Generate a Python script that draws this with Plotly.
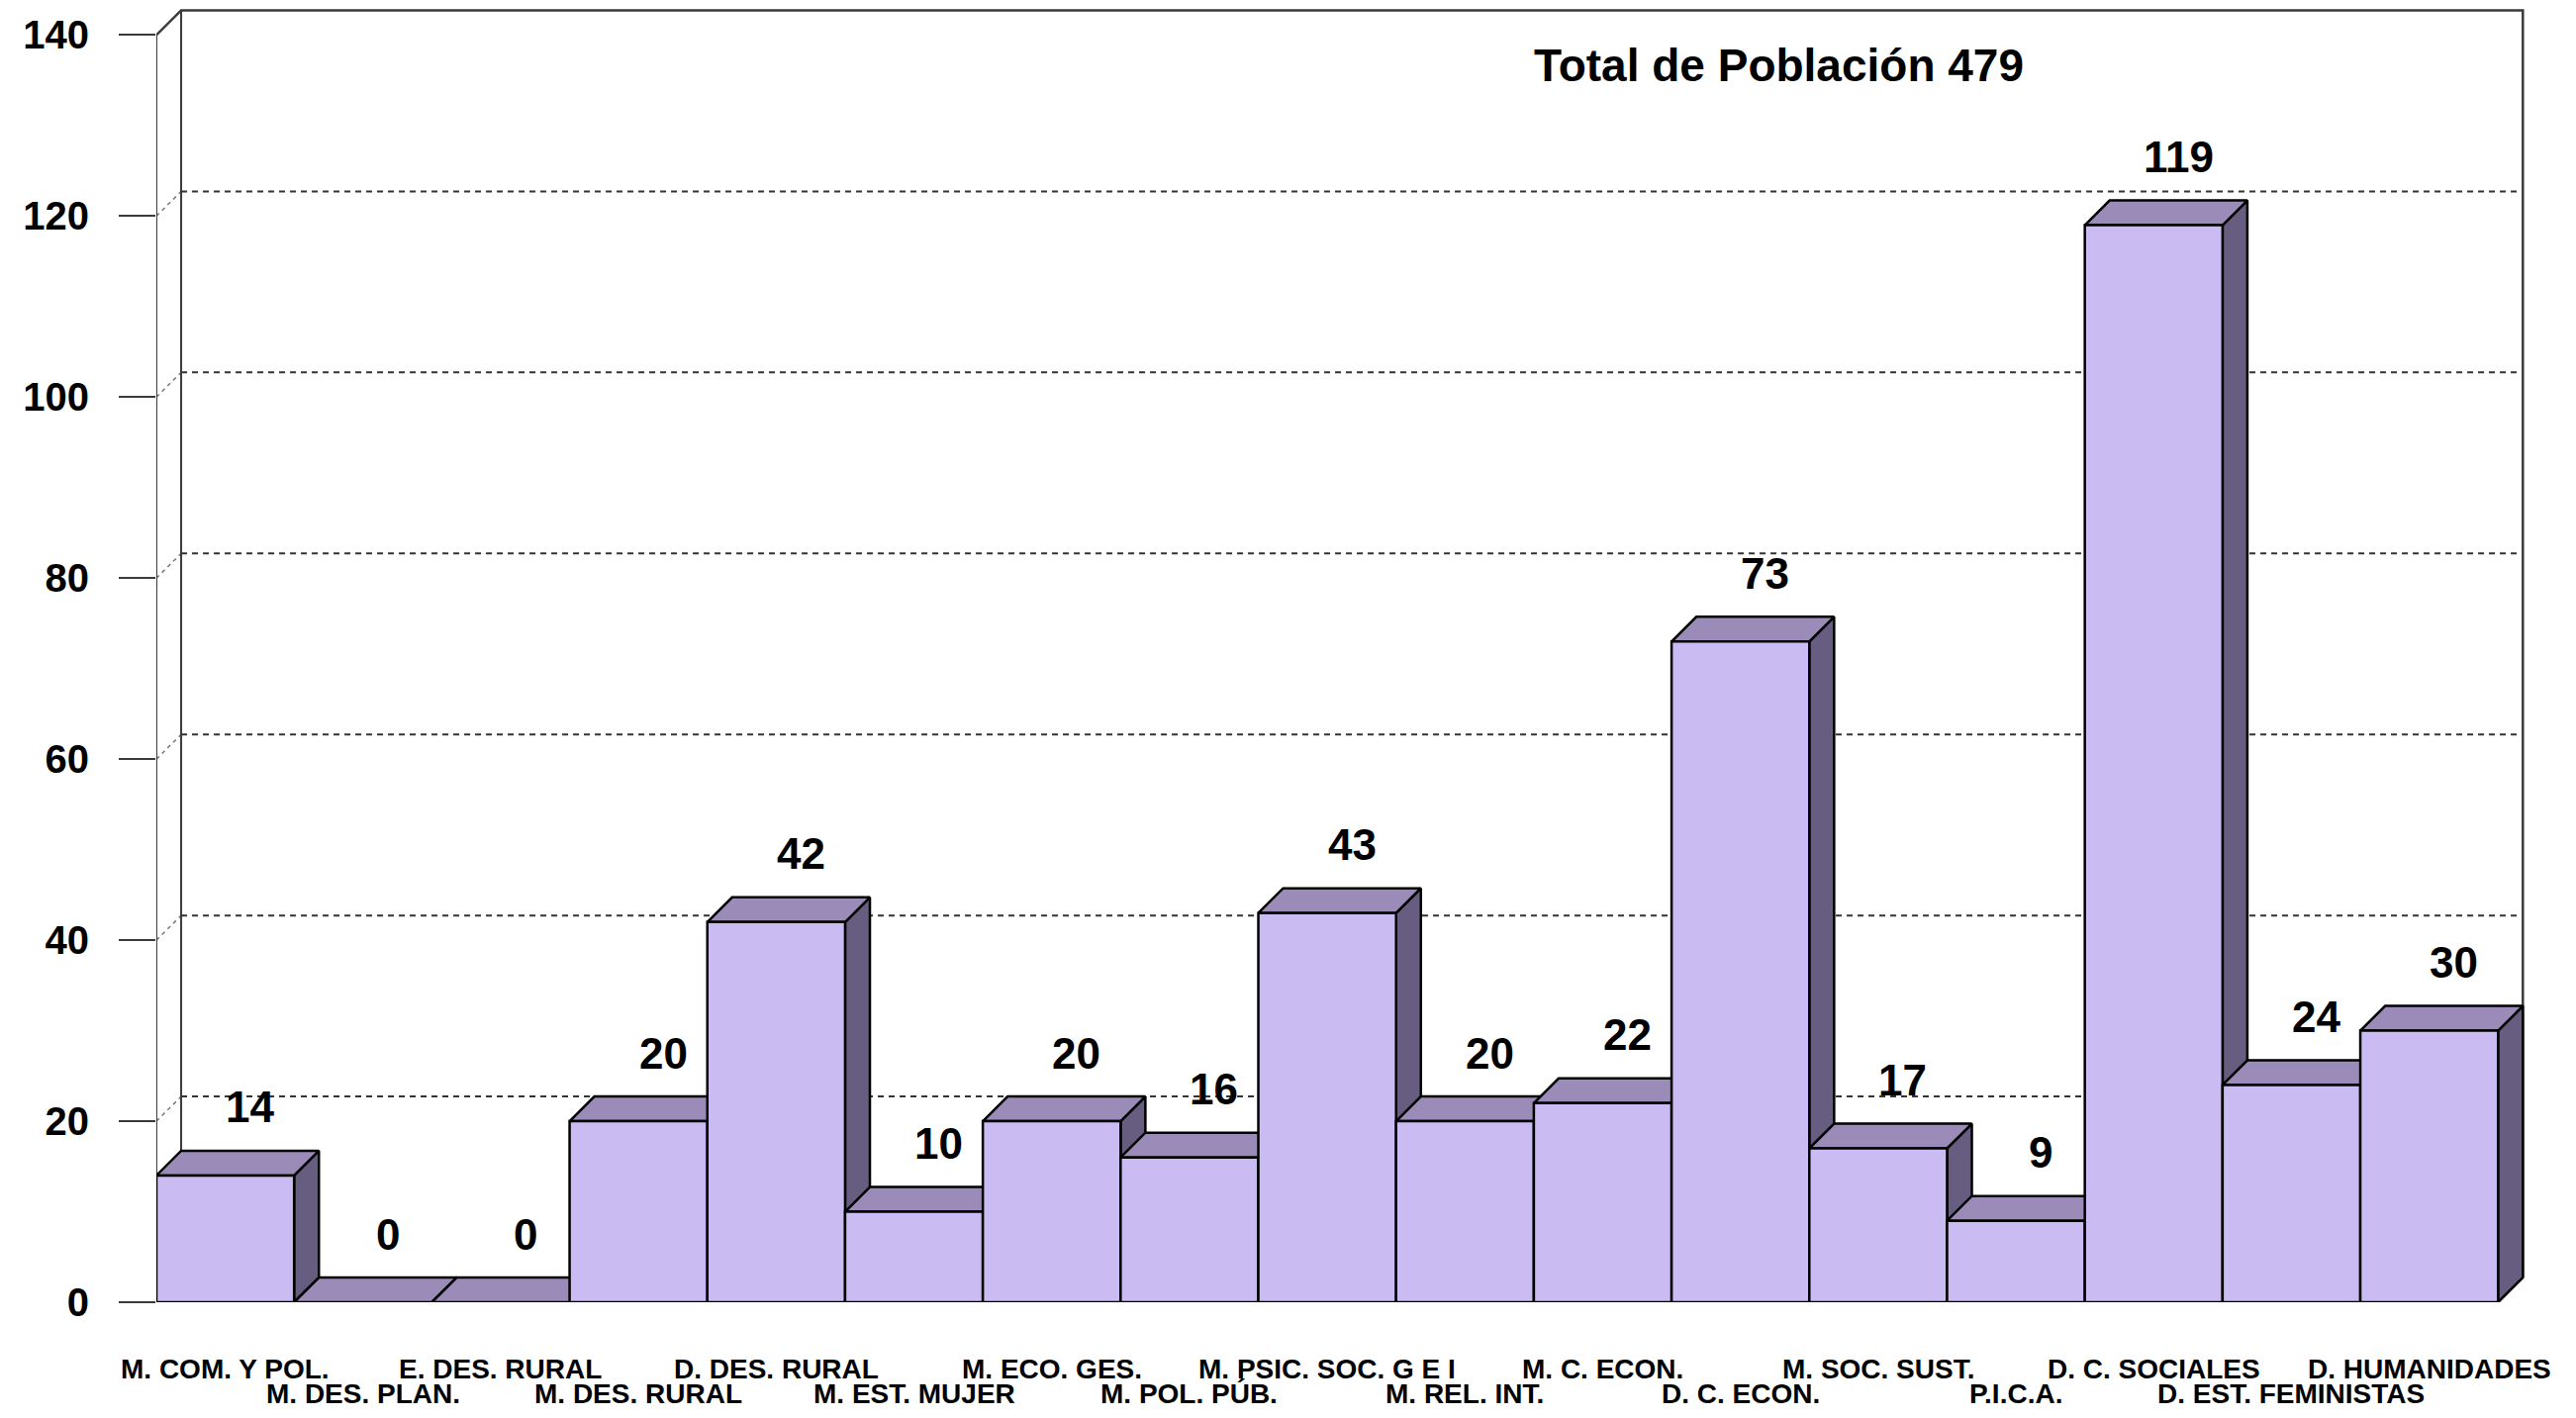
"""
Gráfico de barras 3D: población por programa (Total 479)
"""

import plotly.graph_objects as go

# Datos
programas = [
    "M. COM. Y POL.", "M. DES. PLAN.", "E. DES. RURAL", "M. DES. RURAL",
    "D. DES. RURAL", "M. EST. MUJER", "M. ECO. GES.", "M. POL. PÚB.",
    "M. PSIC. SOC. G E I", "M. REL. INT.", "M. C. ECON.", "D. C. ECON.",
    "M. SOC. SUST.", "P.I.C.A.", "D. C. SOCIALES", "D. EST. FEMINISTAS",
    "D. HUMANIDADES",
]
poblacion = [14, 0, 0, 20, 42, 10, 20, 16, 43, 20, 22, 73, 17, 9, 119, 24, 30]
y_ticks = [0, 20, 40, 60, 80, 100, 120, 140]
titulo = "Total de Población 479"

# Estilo
FONT = "Liberation Sans, Arial, sans-serif"
C_FRENTE = "#CBBBF3"
C_TECHO = "#9B8BB9"
C_LADO = "#675D80"
C_EJE = "#3a3a3a"
DX, DY = 0.18, 2.73   # profundidad del efecto 3D (en unidades de datos)

n = len(poblacion)
y_max = y_ticks[-1]

fig = go.Figure()


def linea(xs, ys, color=C_EJE, width=2, dash=None):
    fig.add_trace(go.Scatter(
        x=xs, y=ys, mode="lines", hoverinfo="skip", showlegend=False,
        line=dict(color=color, width=width, dash=dash)
    ))


def poligono(xs, ys, color):
    fig.add_trace(go.Scatter(
        x=xs + [xs[0]], y=ys + [ys[0]], mode="lines", fill="toself",
        fillcolor=color, hoverinfo="skip", showlegend=False,
        line=dict(color="black", width=2.5)
    ))


# Pared de fondo y líneas de cuadrícula punteadas
for v in y_ticks[1:-1]:
    linea([DX, n + DX], [v + DY, v + DY], color="#333333", width=2, dash="6px,5px")
    linea([0, DX], [v, v + DY], color="#777777", width=1.5, dash="4px,4px")

linea([0, 0], [0, y_max])                                   # eje frontal
linea([0, DX, n + DX, n + DX], [y_max, y_max + DY, y_max + DY, DY], width=2.5)
linea([DX, DX], [DY, y_max + DY])                           # borde izquierdo fondo
linea([0, n, n + DX], [0, 0, DY])                           # piso

# Barras 3D: lado, techo y frente, de izquierda a derecha
for i, v in enumerate(poblacion):
    x0, x1 = i, i + 1
    poligono([x1, x1 + DX, x1 + DX, x1], [0, DY, v + DY, v], C_LADO)
    poligono([x0, x1, x1 + DX, x0 + DX], [v, v, v + DY, v + DY], C_TECHO)
    if v > 0:
        poligono([x0, x1, x1, x0], [0, 0, v, v], C_FRENTE)

# Etiquetas de valores
for i, v in enumerate(poblacion):
    fig.add_annotation(
        x=i + 0.5 + DX, y=v + DY, xref="x", yref="y",
        text=f"<b>{v}</b>", showarrow=False,
        yanchor="middle", yshift=44,
        font=dict(family=FONT, size=44, color="black")
    )

# Etiquetas de categorías en dos filas alternadas
for i, nombre in enumerate(programas):
    fig.add_annotation(
        x=i + 0.5, y=0, xref="x", yref="paper",
        text=f"<b>{nombre}</b>", showarrow=False,
        yanchor="middle", yshift=-67 if i % 2 == 0 else -92,
        font=dict(family=FONT, size=28, color="black")
    )

fig.add_annotation(
    x=0.681, y=0.956, xref="paper", yref="paper",
    text=f"<b>{titulo}</b>", showarrow=False,
    xanchor="center", yanchor="middle",
    font=dict(family=FONT, size=46, color="black")
)

fig.update_layout(
    width=2587,
    height=1417,
    margin=dict(l=150, r=29, t=0, b=109),
    paper_bgcolor="white",
    plot_bgcolor="white",
    showlegend=False,
    xaxis=dict(range=[0, 17.3], visible=False),
    yaxis=dict(
        range=[0, 143.0],
        tickvals=y_ticks,
        ticktext=[f"<b>{t}</b>" for t in y_ticks],
        ticks="outside", ticklen=37, tickwidth=2, tickcolor=C_EJE,
        ticklabelstandoff=22,
        tickfont=dict(family=FONT, size=40, color="black"),
        showgrid=False, zeroline=False, showline=False,
    ),
)

fig.write_html("out.html")
